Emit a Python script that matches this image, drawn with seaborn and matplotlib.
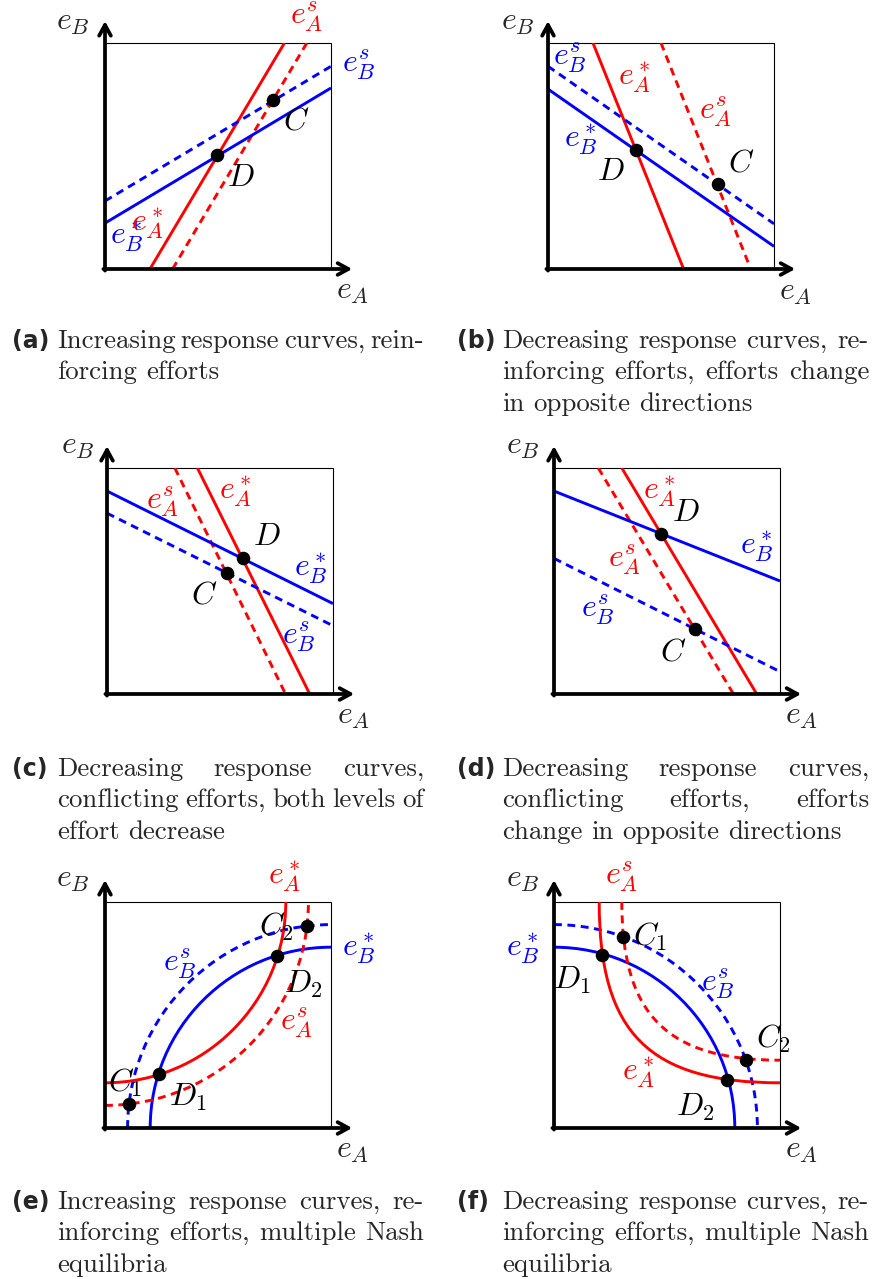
import matplotlib
matplotlib.use("Agg")
import matplotlib.pyplot as plt
import seaborn as sns
from matplotlib.path import Path
from matplotlib.patches import PathPatch, Rectangle

sns.set_style("white")
plt.rcParams["mathtext.fontset"] = "cm"

RED = "#ff0000"
BLUE = "#0000ff"

# ---------------- data (coordinates in the unit box: e_A horizontal, e_B vertical) ----------------
# (a) increasing response curves, reinforcing efforts
a_eAstar_x, a_eAstar_y = [0.199, 0.794], [0.0, 1.0]
a_eAs_x, a_eAs_y = [0.299, 0.893], [0.0, 1.0]
a_eBstar_x, a_eBstar_y = [0.0, 1.0], [0.203, 0.801]
a_eBs_x, a_eBs_y = [0.0, 1.0], [0.301, 0.897]
a_pts_x, a_pts_y = [0.497, 0.743], [0.503, 0.748]

# (b) decreasing response curves, reinforcing efforts
b_eAstar_x, b_eAstar_y = [0.199, 0.600], [1.0, 0.0]
b_eAs_x, b_eAs_y = [0.500, 0.897], [1.0, 0.0]
b_eBstar_x, b_eBstar_y = [0.0, 1.0], [0.796, 0.100]
b_eBs_x, b_eBs_y = [0.0, 1.0], [0.897, 0.200]
b_pts_x, b_pts_y = [0.390, 0.750], [0.528, 0.376]

# (c) decreasing response curves, conflicting efforts, both decrease
c_eAstar_x, c_eAstar_y = [0.400, 0.897], [1.0, 0.0]
c_eAs_x, c_eAs_y = [0.300, 0.790], [1.0, 0.0]
c_eBstar_x, c_eBstar_y = [0.0, 1.0], [0.898, 0.400]
c_eBs_x, c_eBs_y = [0.0, 1.0], [0.800, 0.302]
c_pts_x, c_pts_y = [0.600, 0.532], [0.603, 0.534]

# (d) decreasing response curves, conflicting efforts, opposite directions
d_eAstar_x, d_eAstar_y = [0.300, 0.897], [1.0, 0.0]
d_eAs_x, d_eAs_y = [0.196, 0.794], [1.0, 0.0]
d_eBstar_x, d_eBstar_y = [0.0, 1.0], [0.898, 0.500]
d_eBs_x, d_eBs_y = [0.0, 1.0], [0.600, 0.099]
d_pts_x, d_pts_y = [0.473, 0.626], [0.710, 0.287]

# (e) increasing curves, multiple equilibria: cubic Bezier control points (x list, y list)
e_eBstar_x, e_eBstar_y = [0.2, 0.2, 0.558, 1.0], [0.0, 0.442, 0.8, 0.8]
e_eBs_x, e_eBs_y = [0.1, 0.1, 0.503, 1.0], [0.0, 0.497, 0.9, 0.9]
e_eAstar_x, e_eAstar_y = [0.0, 0.442, 0.8, 0.8], [0.2, 0.2, 0.558, 1.0]
e_eAs_x, e_eAs_y = [0.0, 0.497, 0.9, 0.9], [0.1, 0.1, 0.503, 1.0]
e_pts_x, e_pts_y = [0.105, 0.240, 0.760, 0.892], [0.105, 0.240, 0.760, 0.892]

# (f) decreasing curves, multiple equilibria
f_eBstar_x, f_eBstar_y = [0.0, 0.442, 0.8, 0.8], [0.8, 0.8, 0.442, 0.0]
f_eBs_x, f_eBs_y = [0.0, 0.497, 0.9, 0.9], [0.9, 0.9, 0.497, 0.0]
f_eAstar_x, f_eAstar_y = [0.2, 0.2, 0.42, 1.0], [1.0, 0.42, 0.2, 0.2]
f_eAs_x, f_eAs_y = [0.3, 0.3, 0.5, 1.0], [1.0, 0.5, 0.3, 0.3]
f_pts_x, f_pts_y = [0.304, 0.212, 0.766, 0.848], [0.846, 0.766, 0.212, 0.303]

captions = {
    "a": ["Increasing response curves, rein-", "forcing efforts"],
    "b": ["Decreasing response curves, re-", "inforcing efforts, efforts change",
          "in opposite directions"],
    "c": ["Decreasing response curves,", "conflicting efforts, both levels of",
          "effort decrease"],
    "d": ["Decreasing response curves,", "conflicting efforts, efforts",
          "change in opposite directions"],
    "e": ["Increasing response curves, re-", "inforcing efforts, multiple Nash",
          "equilibria"],
    "f": ["Decreasing response curves, re-", "inforcing efforts, multiple Nash",
          "equilibria"],
}

# ---------------- styling ----------------
W, H = 875, 1279
LW = 2.1
AXLW = 2.7
DASH = (2.7, 1.9)
LABEL_FS = 23
CAP_FS = 19.3
TAG_FS = 17
DOT_S = 95

fig = plt.figure(figsize=(W / 100, H / 100), dpi=100)
fig.patch.set_facecolor("white")


def make_ax(x_left, y_top, size=226):
    ax = fig.add_axes([x_left / W, 1 - (y_top + size) / H, size / W, size / H])
    ax.axis("off")
    ax.add_patch(Rectangle((0, 0), 1, 1, fill=False, lw=0.8, ec="black", zorder=1,
                           clip_on=False))
    arrow = dict(arrowstyle="->,head_length=0.55,head_width=0.3", lw=AXLW,
                 color="black", shrinkA=0, shrinkB=0, mutation_scale=14)
    ax.annotate("", xy=(0, 1.097), xytext=(0, -0.007), arrowprops=arrow,
                annotation_clip=False, zorder=3)
    ax.annotate("", xy=(1.094, 0), xytext=(-0.007, 0), arrowprops=arrow,
                annotation_clip=False, zorder=3)
    return ax


def straight(ax, xs, ys, color, dashed=False):
    sns.lineplot(x=xs, y=ys, color=color, linewidth=LW, estimator=None, sort=False,
                 linestyle=(0, DASH) if dashed else "-", solid_capstyle="butt",
                 ax=ax, zorder=2)


def curve(ax, xs, ys, color, dashed=False):
    path = Path(list(zip(xs, ys)), [Path.MOVETO, Path.CURVE4, Path.CURVE4, Path.CURVE4])
    ax.add_patch(PathPatch(path, fill=False, ec=color, lw=LW, capstyle="butt",
                           ls=(0, DASH) if dashed else "-", zorder=2))


def dots(ax, xs, ys):
    sns.scatterplot(x=xs, y=ys, color="black", s=DOT_S, linewidth=0, ax=ax,
                    zorder=5, clip_on=False)


def labels(ax, items, eA_pos, eB_pos):
    ax.text(*eB_pos, r"$e_B$", fontsize=LABEL_FS, ha="center", va="center")
    ax.text(*eA_pos, r"$e_A$", fontsize=LABEL_FS, ha="center", va="center")
    for x, y, s, c in items:
        ax.text(x, y, s, fontsize=LABEL_FS, color=c, ha="center", va="center", zorder=4)


def finish(ax):
    ax.set_xlim(0, 1)
    ax.set_ylim(0, 1)


# (a)
ax = make_ax(105, 43)
straight(ax, a_eAstar_x, a_eAstar_y, RED)
straight(ax, a_eAs_x, a_eAs_y, RED, True)
straight(ax, a_eBstar_x, a_eBstar_y, BLUE)
straight(ax, a_eBs_x, a_eBs_y, BLUE, True)
dots(ax, a_pts_x, a_pts_y)
labels(ax, [(0.89, 1.118, r"$e_A^s$", RED), (1.122, 0.904, r"$e_B^s$", BLUE),
            (0.846, 0.654, r"$C$", "black"), (0.603, 0.404, r"$D$", "black"),
            (0.096, 0.144, r"$e_B^*$", BLUE), (0.19, 0.203, r"$e_A^*$", RED)],
       (1.096, -0.096), (-0.14, 1.096))
finish(ax)

# (b)
ax = make_ax(548, 43)
straight(ax, b_eAstar_x, b_eAstar_y, RED)
straight(ax, b_eAs_x, b_eAs_y, RED, True)
straight(ax, b_eBstar_x, b_eBstar_y, BLUE)
straight(ax, b_eBs_x, b_eBs_y, BLUE, True)
dots(ax, b_pts_x, b_pts_y)
labels(ax, [(0.096, 0.934, r"$e_B^s$", BLUE), (0.382, 0.845, r"$e_A^*$", RED),
            (0.743, 0.698, r"$e_A^s$", RED), (0.147, 0.572, r"$e_B^*$", BLUE),
            (0.279, 0.431, r"$D$", "black"), (0.853, 0.469, r"$C$", "black")],
       (1.096, -0.099), (-0.132, 1.095))
finish(ax)

# (c)
ax = make_ax(107, 468)
straight(ax, c_eAstar_x, c_eAstar_y, RED)
straight(ax, c_eAs_x, c_eAs_y, RED, True)
straight(ax, c_eBstar_x, c_eBstar_y, BLUE)
straight(ax, c_eBs_x, c_eBs_y, BLUE, True)
dots(ax, c_pts_x, c_pts_y)
labels(ax, [(0.247, 0.849, r"$e_A^s$", RED), (0.57, 0.894, r"$e_A^*$", RED),
            (0.709, 0.695, r"$D$", "black"), (0.90, 0.555, r"$e_B^*$", BLUE),
            (0.43, 0.437, r"$C$", "black"), (0.849, 0.253, r"$e_B^s$", BLUE)],
       (1.09, -0.093), (-0.128, 1.10))
finish(ax)

# (d)
ax = make_ax(554, 468)
straight(ax, d_eAstar_x, d_eAstar_y, RED)
straight(ax, d_eAs_x, d_eAs_y, RED, True)
straight(ax, d_eBstar_x, d_eBstar_y, BLUE)
straight(ax, d_eBs_x, d_eBs_y, BLUE, True)
dots(ax, d_pts_x, d_pts_y)
labels(ax, [(0.469, 0.894, r"$e_A^*$", RED), (0.584, 0.805, r"$D$", "black"),
            (0.897, 0.651, r"$e_B^*$", BLUE), (0.314, 0.592, r"$e_A^s$", RED),
            (0.196, 0.371, r"$e_B^s$", BLUE), (0.528, 0.187, r"$C$", "black")],
       (1.096, -0.093), (-0.136, 1.10))
finish(ax)

# (e)
ax = make_ax(105, 902)
curve(ax, e_eBstar_x, e_eBstar_y, BLUE)
curve(ax, e_eBs_x, e_eBs_y, BLUE, True)
curve(ax, e_eAstar_x, e_eAstar_y, RED)
curve(ax, e_eAs_x, e_eAs_y, RED, True)
dots(ax, e_pts_x, e_pts_y)
labels(ax, [(0.794, 1.111, r"$e_A^*$", RED), (1.122, 0.793, r"$e_B^*$", BLUE),
            (0.757, 0.889, r"$C_2$", "black"), (0.331, 0.727, r"$e_B^s$", BLUE),
            (0.875, 0.638, r"$D_2$", "black"), (0.846, 0.468, r"$e_A^s$", RED),
            (0.088, 0.202, r"$C_1$", "black"), (0.368, 0.136, r"$D_1$", "black")],
       (1.096, -0.093), (-0.14, 1.103))
finish(ax)

# (f)
ax = make_ax(554, 902)
curve(ax, f_eBstar_x, f_eBstar_y, BLUE)
curve(ax, f_eBs_x, f_eBs_y, BLUE, True)
curve(ax, f_eAstar_x, f_eAstar_y, RED)
curve(ax, f_eAs_x, f_eAs_y, RED, True)
dots(ax, f_pts_x, f_pts_y)
labels(ax, [(0.30, 1.111, r"$e_A^s$", RED), (-0.136, 0.793, r"$e_B^*$", BLUE),
            (0.425, 0.845, r"$C_1$", "black"), (0.078, 0.653, r"$D_1$", "black"),
            (0.727, 0.638, r"$e_B^s$", BLUE), (0.971, 0.394, r"$C_2$", "black"),
            (0.373, 0.247, r"$e_A^*$", RED), (0.624, 0.092, r"$D_2$", "black")],
       (1.096, -0.093), (-0.136, 1.103))
finish(ax)

# ---------------- captions (justified like the LaTeX source) ----------------
renderer = fig.canvas.get_renderer()
LINE_GAP = 31.3


def caption(tag, lines, tag_x, x0, x1, base_y):
    fig.text(tag_x / W, 1 - base_y / H, f"({tag})", fontsize=TAG_FS, fontweight="bold",
             family="DejaVu Sans", va="baseline", ha="left")
    for i, line in enumerate(lines):
        y = base_y + i * LINE_GAP
        words = line.split()
        ts = [fig.text(0, 1 - y / H, w, fontsize=CAP_FS, family="cmr10",
                       va="baseline", ha="left") for w in words]
        widths = [t.get_window_extent(renderer).width for t in ts]
        if i < len(lines) - 1 and len(words) > 1:
            gap = (x1 - x0 - sum(widths)) / (len(words) - 1)
        else:
            gap = CAP_FS * 100 / 72 * 0.333
        x = x0
        for t, w in zip(ts, widths):
            t.set_x(x / W)
            x += w + gap


caption("a", captions["a"], 12, 57, 424, 348)
caption("b", captions["b"], 457, 502, 869, 348)
caption("c", captions["c"], 12, 57, 424, 776)
caption("d", captions["d"], 457, 502, 869, 776)
caption("e", captions["e"], 12, 57, 424, 1209)
caption("f", captions["f"], 457, 502, 869, 1209)

fig.savefig("out.png", dpi=100, facecolor="white")
